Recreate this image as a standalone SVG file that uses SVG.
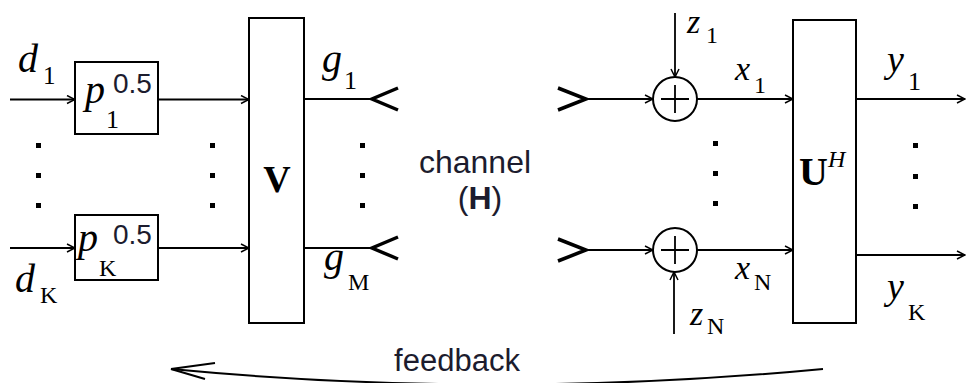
<svg xmlns="http://www.w3.org/2000/svg" width="966" height="383" viewBox="0 0 966 383">
<defs>
<style>
.ln{stroke:#000;stroke-width:1.8;fill:none}
.bx{stroke:#000;stroke-width:2;fill:#fff}
.ch{stroke:#000;stroke-width:3.5;fill:none;stroke-linejoin:miter}
.v{font-family:"Liberation Serif",serif;font-style:italic;fill:#000}
.s{font-family:"Liberation Serif",serif;fill:#000}
.b{font-family:"Liberation Serif",serif;font-weight:bold;fill:#000}
.t{font-family:"Liberation Sans",Arial,sans-serif;fill:#1c1c2e}
.dot{fill:#000}
</style>
<marker id="ar" viewBox="0 0 10 10" refX="9" refY="5" markerWidth="10" markerHeight="10" markerUnits="userSpaceOnUse" orient="auto">
<path d="M1,1 L9,5 L1,9" fill="none" stroke="#000" stroke-width="1.5"/>
</marker>
</defs>
<rect width="966" height="383" fill="#fff"/>

<g id="connectors">
<line class="ln" x1="10" y1="99.5" x2="75" y2="99.5" marker-end="url(#ar)"/>
<line class="ln" x1="10" y1="248" x2="75" y2="248" marker-end="url(#ar)"/>
<line class="ln" x1="158" y1="99.5" x2="249" y2="99.5" marker-end="url(#ar)"/>
<line class="ln" x1="158" y1="248" x2="249" y2="248" marker-end="url(#ar)"/>
<line class="ln" x1="304" y1="99" x2="372" y2="99"/>
<line class="ln" x1="304" y1="248" x2="372" y2="248"/>
<path class="ch" d="M398,88 L372,99 L398,110"/>
<path class="ch" d="M398,237 L372,248 L398,259"/>
<path class="ch" d="M558,88 L586,99 L558,110"/>
<path class="ch" d="M558,239 L586,250 L558,261"/>
<line class="ln" x1="586" y1="99" x2="653" y2="99" marker-end="url(#ar)"/>
<line class="ln" x1="586" y1="250" x2="653" y2="250" marker-end="url(#ar)"/>
<line class="ln" x1="675" y1="13" x2="675" y2="77" marker-end="url(#ar)"/>
<line class="ln" x1="674" y1="334" x2="674" y2="272" marker-end="url(#ar)"/>
<line class="ln" x1="697" y1="99" x2="793" y2="99" marker-end="url(#ar)"/>
<line class="ln" x1="697" y1="250" x2="793" y2="250" marker-end="url(#ar)"/>
<line class="ln" x1="856" y1="99" x2="965" y2="99" marker-end="url(#ar)"/>
<line class="ln" x1="856" y1="255" x2="965" y2="255" marker-end="url(#ar)"/>
<path d="M823,369 Q497,400 171,369" fill="none" stroke="#000" stroke-width="2"/>
<path d="M171,369 L215,363 M171,369 L205,379" fill="none" stroke="#000" stroke-width="2"/>
</g>

<g id="p1">
<rect class="bx" x="75" y="62" width="83" height="72"/>
<text class="v" x="85" y="103" font-size="40">p</text>
<text class="s" x="106" y="128" font-size="26">1</text>
<text class="t" x="113" y="93" font-size="28" fill="#000">0.5</text>
</g>
<g id="pK">
<rect class="bx" x="75" y="215" width="83" height="65"/>
<text class="v" x="78" y="251" font-size="40">p</text>
<text class="s" x="99" y="276" font-size="24">K</text>
<text class="t" x="113" y="244" font-size="28" fill="#000">0.5</text>
</g>
<g id="V">
<rect class="bx" x="249" y="18" width="55" height="305"/>
<text class="b" x="277" y="192" font-size="38" text-anchor="middle">V</text>
</g>
<g id="sum1">
<circle class="bx" cx="675" cy="99" r="22"/>
<path class="ln" d="M661,99 H689 M675,85 V113"/>
</g>
<g id="sumN">
<circle class="bx" cx="675" cy="250" r="22"/>
<path class="ln" d="M661,250 H689 M675,236 V264"/>
</g>
<g id="UH">
<rect class="bx" x="793" y="20" width="63" height="303"/>
<text class="b" x="799" y="185" font-size="40">U</text>
<text class="v" x="828" y="167" font-size="24">H</text>
</g>

<g id="labels">
<text class="v" x="18" y="72" font-size="40">d</text>
<text class="s" x="43" y="84" font-size="25">1</text>
<text class="v" x="15" y="292" font-size="40">d</text>
<text class="s" x="40" y="303" font-size="24">K</text>
<text class="v" x="322" y="72" font-size="40">g</text>
<text class="s" x="344" y="89" font-size="26">1</text>
<text class="v" x="324" y="270" font-size="40">g</text>
<text class="s" x="348" y="290" font-size="24">M</text>
<text class="v" x="687" y="33" font-size="34">z</text>
<text class="s" x="706" y="43" font-size="24">1</text>
<text class="v" x="690" y="325" font-size="34">z</text>
<text class="s" x="707" y="334" font-size="24">N</text>
<text class="v" x="735" y="80" font-size="34">x</text>
<text class="s" x="754" y="93" font-size="24">1</text>
<text class="v" x="735" y="279" font-size="34">x</text>
<text class="s" x="754" y="290" font-size="24">N</text>
<text class="v" x="887" y="72" font-size="38">y</text>
<text class="s" x="908" y="90" font-size="26">1</text>
<text class="v" x="887" y="299" font-size="38">y</text>
<text class="s" x="908" y="320" font-size="24">K</text>
<text class="t" x="475" y="173" font-size="32" text-anchor="middle">channel</text>
<text class="t" x="480" y="209" font-size="32" text-anchor="middle">(<tspan font-weight="bold">H</tspan>)</text>
<text class="t" x="457" y="371" font-size="31" text-anchor="middle">feedback</text>
</g>

<g id="dots">
<rect class="dot" x="36" y="143" width="5" height="5"/>
<rect class="dot" x="36" y="173" width="5" height="5"/>
<rect class="dot" x="36" y="203" width="5" height="5"/>
<rect class="dot" x="210" y="143" width="5" height="5"/>
<rect class="dot" x="210" y="173" width="5" height="5"/>
<rect class="dot" x="210" y="203" width="5" height="5"/>
<rect class="dot" x="360" y="143" width="5" height="5"/>
<rect class="dot" x="360" y="173" width="5" height="5"/>
<rect class="dot" x="360" y="203" width="5" height="5"/>
<rect class="dot" x="713" y="141" width="5" height="5"/>
<rect class="dot" x="713" y="171" width="5" height="5"/>
<rect class="dot" x="713" y="201" width="5" height="5"/>
<rect class="dot" x="913" y="143" width="5" height="5"/>
<rect class="dot" x="913" y="174" width="5" height="5"/>
<rect class="dot" x="913" y="204" width="5" height="5"/>
</g>
</svg>
